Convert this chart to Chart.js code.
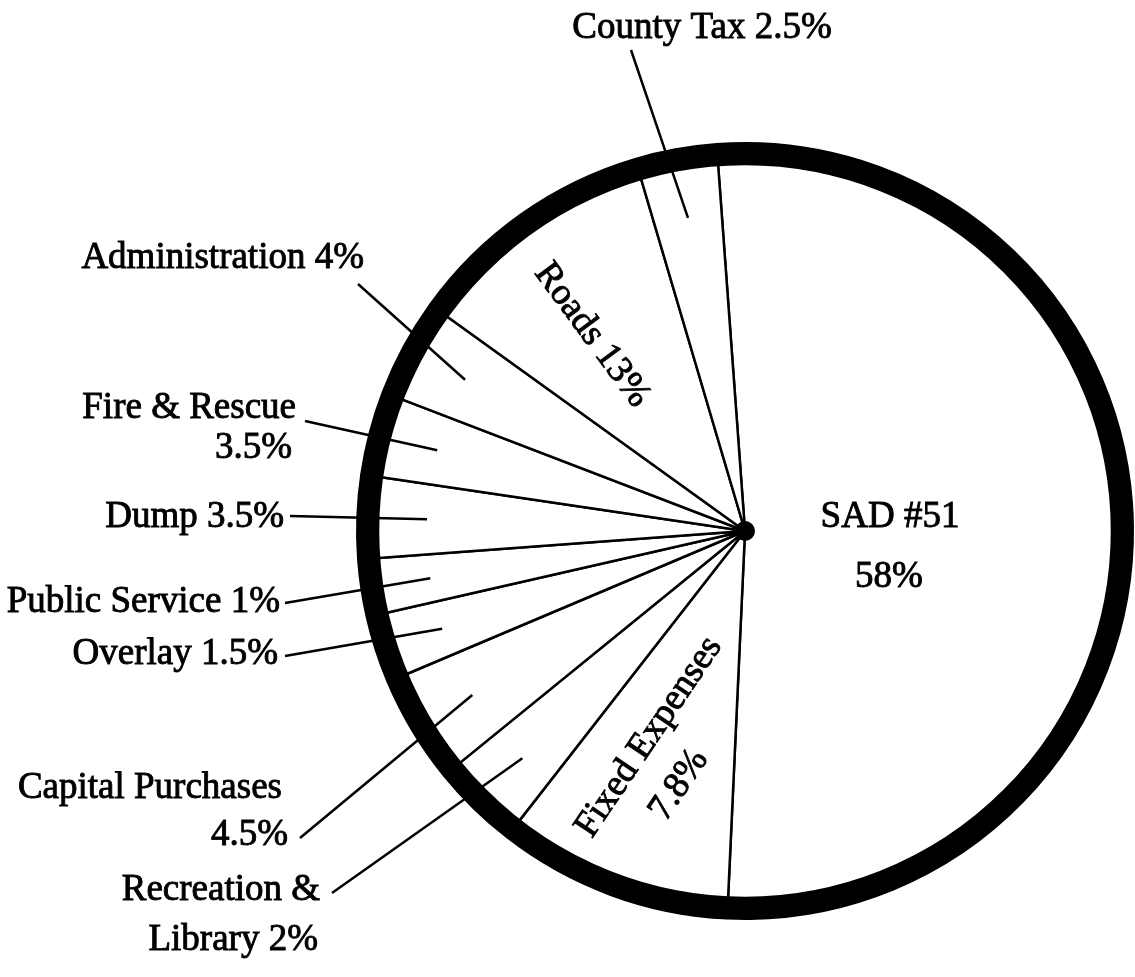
<!DOCTYPE html>
<html>
<head>
<meta charset="utf-8">
<script src="https://cdn.jsdelivr.net/npm/chart.js@4.4.1/dist/chart.umd.min.js"></script>
<style>
  html, body { margin: 0; padding: 0; background: #fff; overflow: hidden; }
  #wrap { width: 1135px; height: 977px; position: relative; }
</style>
</head>
<body>
<div id="wrap"><canvas id="budgetPie" width="1135" height="977"></canvas></div>
<script>
// wedges in clockwise order, starting just left of 12 o'clock
const categories = ["SAD #51", "Fixed Expenses", "Recreation & Library", "Capital Purchases", "Overlay",
  "Public Service", "Dump", "Fire & Rescue", "Administration", "Roads", "County Tax"];
// share of the circle each wedge takes as drawn (percent)
const drawnShares = [51.9, 9.8, 3.6, 4.5, 2.8, 2.4, 3.5, 3.5, 4.1, 10.5, 3.4];
// percentages printed beside each wedge
const printedPct = ["58%", "7.8%", "2%", "4.5%", "1.5%", "1%", "3.5%", "3.5%", "4%", "13%", "2.5%"];

const FONT = '37px "Liberation Serif", "Times New Roman", serif';
const RING = 22;

// where each label sits on the page (text only, wedges come from the chart)
const outsideLabels = {
  "County Tax": { lines: [["County Tax " + printedPct[10], 702, 38]], align: "center", from: [631, 50] },
  "Administration": { lines: [["Administration " + printedPct[8], 364, 268]], align: "right", from: [358, 284] },
  "Fire & Rescue": { lines: [["Fire & Rescue", 296, 418], [printedPct[7], 292, 458]], align: "right", from: [305, 421] },
  "Dump": { lines: [["Dump " + printedPct[6], 284, 527]], align: "right", from: [290, 516] },
  "Public Service": { lines: [["Public Service " + printedPct[5], 280, 612]], align: "right", from: [285, 603] },
  "Overlay": { lines: [["Overlay " + printedPct[4], 278, 664]], align: "right", from: [285, 656] },
  "Capital Purchases": { lines: [["Capital Purchases", 282, 798], [printedPct[3], 288, 845]], align: "right", from: [300, 838] },
  "Recreation & Library": { lines: [["Recreation &", 320, 900], ["Library " + printedPct[2], 318, 950]], align: "right", from: [332, 893] },
};

const insideLabels = [
  { text: "Roads " + printedPct[9], x: 592, y: 335, angle: 53.5 },
  { text: "SAD #51", x: 890, y: 517, angle: 0 },
  { text: printedPct[0], x: 889, y: 577, angle: 0 },
  { text: "Fixed Expenses", x: 649, y: 737, angle: -56 },
  { text: printedPct[1], x: 679, y: 785, angle: -56 },
];

function inkText(ctx, text, x, y) {
  ctx.fillText(text, x, y);
  ctx.strokeText(text, x, y);
}

const decorations = {
  id: "decorations",
  afterDatasetsDraw(chart) {
    const ctx = chart.ctx;
    const arcs = chart.getDatasetMeta(0).data;
    const { x: cx, y: cy, outerRadius } = arcs[0].getProps(["x", "y", "outerRadius"], true);
    const inner = outerRadius - RING;

    ctx.save();
    ctx.strokeStyle = "#000";
    ctx.fillStyle = "#000";

    // leader lines from the outside labels into their wedges
    ctx.lineWidth = 2.5;
    categories.forEach((name, i) => {
      const label = outsideLabels[name];
      if (!label) return;
      const { startAngle, endAngle } = arcs[i].getProps(["startAngle", "endAngle"], true);
      const mid = (startAngle + endAngle) / 2;
      ctx.beginPath();
      ctx.moveTo(label.from[0], label.from[1]);
      ctx.lineTo(cx + Math.cos(mid) * inner * 0.87, cy + Math.sin(mid) * inner * 0.87);
      ctx.stroke();
    });

    // heavy outer ring
    ctx.lineWidth = RING;
    ctx.beginPath();
    ctx.arc(cx, cy, outerRadius - RING / 2, 0, Math.PI * 2);
    ctx.stroke();

    // hub where the spokes meet
    ctx.beginPath();
    ctx.arc(cx, cy, 10, 0, Math.PI * 2);
    ctx.fill();

    // labels
    ctx.font = FONT;
    ctx.lineWidth = 0.9;
    ctx.textBaseline = "alphabetic";
    Object.values(outsideLabels).forEach((label) => {
      ctx.textAlign = label.align;
      label.lines.forEach(([text, x, y]) => inkText(ctx, text, x, y));
    });

    ctx.textAlign = "center";
    ctx.textBaseline = "middle";
    insideLabels.forEach((label) => {
      ctx.save();
      ctx.translate(label.x, label.y);
      ctx.rotate((label.angle * Math.PI) / 180);
      inkText(ctx, label.text, 0, 0);
      ctx.restore();
    });

    ctx.restore();
  },
};

new Chart(document.getElementById("budgetPie"), {
  type: "pie",
  data: {
    labels: categories,
    datasets: [
      {
        data: drawnShares,
        backgroundColor: "#ffffff",
        borderColor: "#000000",
        borderWidth: 2.5,
      },
    ],
  },
  options: {
    responsive: false,
    animation: false,
    devicePixelRatio: 1,
    rotation: -4.2,
    layout: { padding: { left: 356, right: 1, top: 142, bottom: 57 } },
    plugins: { legend: { display: false }, tooltip: { enabled: false } },
  },
  plugins: [decorations],
});
</script>
</body>
</html>
